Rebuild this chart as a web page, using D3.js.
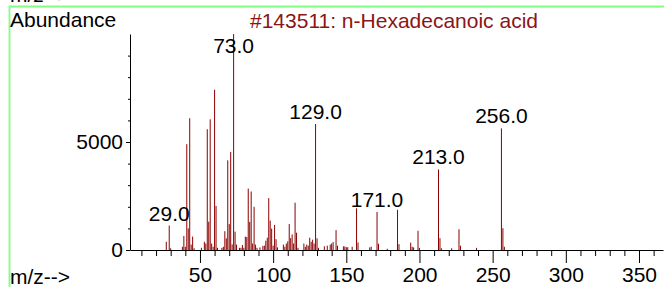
<!DOCTYPE html>
<html>
<head>
<meta charset="utf-8">
<script src="https://cdn.jsdelivr.net/npm/d3@7"></script>
<style>
  body { margin: 0; background: #fff; }
  svg text { font-family: "Liberation Sans", Arial, sans-serif; font-size: 21px; }
</style>
</head>
<body>
<svg width="664" height="287"></svg>
<script>
// peaks: m/z and abundance
const mz = [27, 29, 30, 38, 39, 40, 41, 42, 43, 44, 45, 46, 51, 53, 54, 55, 56, 57, 58, 59,
  60, 61, 62, 65, 66, 67, 68, 69, 70, 71, 72, 73, 74, 75, 77, 78, 79, 80, 81, 82,
  83, 84, 85, 86, 87, 88, 89, 91, 93, 94, 95, 96, 97, 98, 99, 100, 101, 102, 103, 107,
  108, 109, 110, 111, 112, 113, 114, 115, 116, 117, 121, 122, 123, 124, 125, 126, 127, 128, 129, 130,
  131, 135, 137, 139, 140, 141, 143, 144, 148, 149, 150, 151, 154, 157, 158, 166, 167, 171, 172, 178,
  185, 186, 194, 195, 196, 199, 200, 213, 214, 215, 222, 227, 228, 239, 256, 257, 258];
const abundance = [380, 1130, 80, 150, 650, 150, 4900, 1000, 6100, 250, 620, 80, 100, 380, 300, 5590, 1310, 6050, 300, 150,
  7420, 2040, 100, 100, 150, 870, 540, 4150, 1200, 4540, 260, 10000, 850, 250, 100, 100, 230, 100, 620, 600,
  2840, 1300, 2710, 300, 2000, 250, 100, 120, 190, 200, 430, 570, 2400, 1360, 990, 200, 1160, 500, 120, 250,
  150, 300, 400, 1200, 550, 720, 300, 2190, 800, 100, 300, 150, 250, 200, 570, 380, 480, 300, 5830, 540,
  100, 170, 200, 250, 300, 370, 920, 200, 170, 160, 130, 130, 150, 1930, 350, 120, 150, 1760, 290, 60,
  1860, 270, 340, 150, 120, 890, 100, 3730, 550, 80, 80, 960, 200, 100, 5630, 1010, 150];
const labelled = [29, 73, 129, 171, 213, 256];
const xTicks = d3.range(10, 370, 10);
const xMajor = [50, 100, 150, 200, 250, 300, 350];
const yTicks = d3.range(0, 10000, 1000);
const yMajor = [0, 5000];
const title = "#143511: n-Hexadecanoic acid";

const peaks = mz.map((m, i) => ({ mz: m, ab: abundance[i] }));

const svg = d3.select('svg');

// green frame
svg.append('path')
    .attr('d', 'M9.5,287 V6.5 H664')
    .attr('fill', 'none')
    .attr('stroke', '#80ff80')
    .attr('stroke-width', 1.8);

const x = d3.scaleLinear().domain([2.2, 366.4]).range([130, 663]);
const y = d3.scaleLinear().domain([0, 10000]).range([250, 34]);

// x axis: minor then major ticks
svg.append('g')
    .attr('transform', 'translate(0,250)')
    .call(d3.axisBottom(x).tickValues(xTicks.filter(t => !xMajor.includes(t)))
        .tickSize(6).tickSizeOuter(0).tickFormat(''));
svg.append('g')
    .attr('transform', 'translate(0,250)')
    .call(d3.axisBottom(x).tickValues(xMajor).tickSize(13).tickSizeOuter(0).tickPadding(4)
        .tickFormat(d3.format('d')))
    .call(g => g.select('.domain').remove());

// y axis
svg.append('g')
    .attr('transform', 'translate(130,0)')
    .call(d3.axisLeft(y).tickValues(yTicks.filter(t => !yMajor.includes(t)))
        .tickSize(2).tickSizeOuter(0).tickFormat(''));
svg.append('g')
    .attr('transform', 'translate(130,0)')
    .call(d3.axisLeft(y).tickValues(yMajor).tickSize(4).tickSizeOuter(0).tickPadding(3)
        .tickFormat(d3.format('d')))
    .call(g => g.select('.domain').remove());

svg.selectAll('.domain').attr('stroke', '#000');
svg.selectAll('.tick line').attr('stroke', '#000');
svg.selectAll('.tick text')
    .attr('fill', '#000')
    .style('font-size', '21px')
    .style('font-family', '"Liberation Sans", Arial, sans-serif');

// peaks
svg.append('g').selectAll('line')
    .data(peaks)
    .enter()
    .append('line')
    .attr('x1', d => x(d.mz))
    .attr('x2', d => x(d.mz))
    .attr('y1', y(0))
    .attr('y2', d => y(d.ab))
    .attr('stroke', '#8b0000')
    .attr('stroke-width', 1);

svg.append('g').selectAll('text')
    .data(peaks.filter(d => labelled.includes(d.mz)))
    .enter()
    .append('text')
    .attr('x', d => x(d.mz))
    .attr('y', d => Math.max(y(d.ab) - 5, 53))
    .attr('text-anchor', 'middle')
    .attr('fill', '#000')
    .text(d => d.mz.toFixed(1));

// texts
svg.append('text').attr('x', 10).attr('y', 2).text('m/z-->');
svg.append('text').attr('x', 10).attr('y', 26.5).text('Abundance');
svg.append('text').attr('x', 394).attr('y', 28).attr('text-anchor', 'middle')
    .attr('fill', '#8c1515').text(title);
svg.append('text').attr('x', 10).attr('y', 284).text('m/z-->');
</script>
</body>
</html>
